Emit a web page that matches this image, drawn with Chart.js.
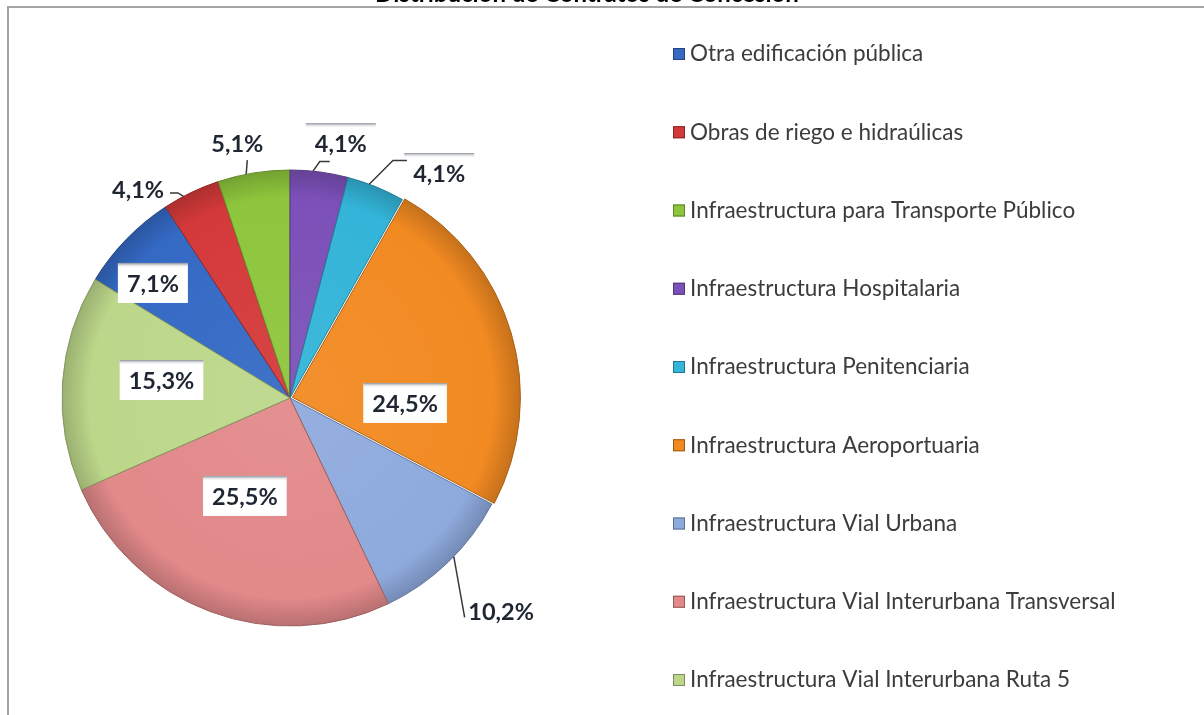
<!DOCTYPE html>
<html>
<head>
<meta charset="utf-8">
<title>Distribución de Contratos de Concesión</title>
<script src="https://cdn.jsdelivr.net/npm/chart.js@4.4.1/dist/chart.umd.min.js"></script>
<style>
  html, body { margin: 0; padding: 0; background: #fff; overflow: hidden; }
  #wrap { position: absolute; left: 0; top: 0; width: 1204px; height: 715px; }
  #frame { position: absolute; left: 7px; top: 6px; width: 1220px; height: 730px;
           border-top: 2px solid #a4a4a4; border-left: 2px solid #a4a4a4; pointer-events: none; }
</style>
</head>
<body>
<div id="wrap"><canvas id="chart"></canvas></div>
<div id="frame"></div>
<script>
const chartTitle = 'Distribución de Contratos de Concesión';
const categories = [
    'Otra edificación pública',
    'Obras de riego e hidraúlicas',
    'Infraestructura para Transporte Público',
    'Infraestructura Hospitalaria',
    'Infraestructura Penitenciaria',
    'Infraestructura Aeroportuaria',
    'Infraestructura Vial Urbana',
    'Infraestructura Vial Interurbana Transversal',
    'Infraestructura Vial Interurbana Ruta 5'
];
const shares = [7.1, 4.1, 5.1, 4.1, 4.1, 24.5, 10.2, 25.5, 15.3];
const valueLabels = shares.map(v => v.toFixed(1).replace('.', ',') + '%');
const sliceColors = ['#3469c4', '#d4393a', '#8dc63c', '#7b50b8', '#33b4d8', '#f28a22', '#8eaadd', '#e2898a', '#bcd78a'];

const pieRadius = 228;
const DEG = Math.PI / 180;

// where each percentage sits relative to its slice: r = fraction of radius, da = degrees off mid angle
// line = [start angle off, elbow angle off, elbow radius fraction, horizontal tail px]
const labelPlace = [
    { r: 0.785, da: -4.1, box: true },
    { r: 1.133, da: -10.3, box: false, line: [-2.1, -2.9, 1.025, -8] },
    { r: 1.142, da: -2.5, box: false, line: [-1.9, -1.0, 1.06, 0] },
    { r: 1.14, da: 3.9, box: true, line: [-1.6, -0.2, 1.045, 10] },
    { r: 1.184, da: 11.4, box: true, line: [-1.8, 1.3, 1.135, 14] },
    { r: 0.464, da: 20.6, box: true },
    { r: 1.318, da: -0.7, box: false, line: [-2.0, 5.4, 1.23, 0] },
    { r: 0.473, da: 4.4, box: true },
    { r: 0.569, da: 4.2, box: true }
];

function shade(hex, f) {
    const n = parseInt(hex.slice(1), 16);
    const t = f < 0 ? 0 : 255, k = Math.abs(f);
    const ch = [n >> 16, (n >> 8) & 255, n & 255].map(v => Math.round(v + (t - v) * k));
    return `rgb(${ch[0]}, ${ch[1]}, ${ch[2]})`;
}

const decor = {
    id: 'decor',
    beforeDraw(chart) {
        const ctx = chart.ctx;
        ctx.save();
        // title, mostly cut off by the top of the picture
        ctx.font = 'bold 24px Lato';
        ctx.fillStyle = '#000';
        ctx.textAlign = 'center';
        ctx.textBaseline = 'alphabetic';
        ctx.fillText(chartTitle, 587, 2);
        // legend
        ctx.font = '22.5px Lato';
        ctx.textAlign = 'left';
        ctx.textBaseline = 'middle';
        categories.forEach((name, i) => {
            const y = 54 + i * 78.25;
            ctx.fillStyle = sliceColors[i];
            ctx.fillRect(673, y - 6, 12, 12);
            ctx.strokeStyle = shade(sliceColors[i], -0.35);
            ctx.lineWidth = 1;
            ctx.strokeRect(673.5, y - 5.5, 11, 11);
            ctx.fillStyle = '#3c3c3c';
            ctx.fillText(name, 690, y);
        });
        ctx.restore();
    },
    afterDatasetsDraw(chart) {
        const ctx = chart.ctx;
        const meta = chart.getDatasetMeta(0);
        ctx.save();
        ctx.font = 'bold 23.5px Lato';
        ctx.textAlign = 'center';
        ctx.textBaseline = 'middle';
        const spots = meta.data.map(arc => {
            const p = arc.getProps(['x', 'y', 'startAngle', 'endAngle', 'outerRadius'], true);
            const mid = (p.startAngle + p.endAngle) / 2;
            const off = arc.options.offset || 0;
            return { R: p.outerRadius, mid, cx: p.x + Math.cos(mid) * off, cy: p.y + Math.sin(mid) * off };
        });
        spots.forEach((s, i) => {
            const pl = labelPlace[i];
            const a = s.mid + pl.da * DEG;
            const x = s.cx + Math.cos(a) * s.R * pl.r;
            const y = s.cy + Math.sin(a) * s.R * pl.r;
            const text = valueLabels[i];
            if (pl.box) {
                const w = ctx.measureText(text).width + 18, h = 40;
                ctx.fillStyle = '#fff';
                ctx.fillRect(x - w / 2, y - h / 2, w, h);
                const g = ctx.createLinearGradient(0, y - h / 2, 0, y - h / 2 + 5);
                g.addColorStop(0, '#8a8f98');
                g.addColorStop(1, 'rgba(255,255,255,0)');
                ctx.fillStyle = g;
                ctx.fillRect(x - w / 2, y - h / 2, w, 5);
            }
            ctx.fillStyle = '#1f2632';
            ctx.fillText(text, x, y + 1);
        });
        ctx.strokeStyle = '#3a3a3a';
        ctx.lineWidth = 1.5;
        spots.forEach((s, i) => {
            const line = labelPlace[i].line;
            if (!line) return;
            const [a0, a1, r1, hx] = line;
            const sa = s.mid + a0 * DEG, ea = s.mid + a1 * DEG;
            const x1 = s.cx + Math.cos(ea) * s.R * r1, y1 = s.cy + Math.sin(ea) * s.R * r1;
            ctx.beginPath();
            ctx.moveTo(s.cx + Math.cos(sa) * s.R, s.cy + Math.sin(sa) * s.R);
            ctx.lineTo(x1, y1);
            if (hx) ctx.lineTo(x1 + hx, y1);
            ctx.stroke();
        });
        ctx.restore();
    }
};

const ctx = document.getElementById('chart').getContext('2d');
new Chart(ctx, {
    type: 'pie',
    data: {
        labels: categories,
        datasets: [{
            data: shares,
            backgroundColor: function (c) {
                const base = sliceColors[c.dataIndex];
                const area = c.chart.chartArea;
                if (!area) return base;
                const cx = (area.left + area.right) / 2, cy = (area.top + area.bottom) / 2;
                const g = c.chart.ctx.createRadialGradient(cx, cy, 0, cx, cy, pieRadius);
                g.addColorStop(0, shade(base, 0.06));
                g.addColorStop(0.88, base);
                g.addColorStop(1, shade(base, -0.18));
                return g;
            },
            borderColor: sliceColors.map(c => shade(c, -0.3)),
            borderWidth: 1,
            offset: [0, 0, 0, 0, 0, 10, 0, 0, 0],
            hoverOffset: 0
        }]
    },
    options: {
        responsive: true,
        maintainAspectRatio: false,
        animation: false,
        radius: pieRadius,
        rotation: -(shares[0] + shares[1] + shares[2]) * 3.6,
        layout: {
            padding: { left: 0, right: 624, top: 81, bottom: 0 }
        },
        plugins: {
            legend: { display: false },
            title: { display: false },
            tooltip: { enabled: false }
        }
    },
    plugins: [decor]
});
</script>
</body>
</html>
